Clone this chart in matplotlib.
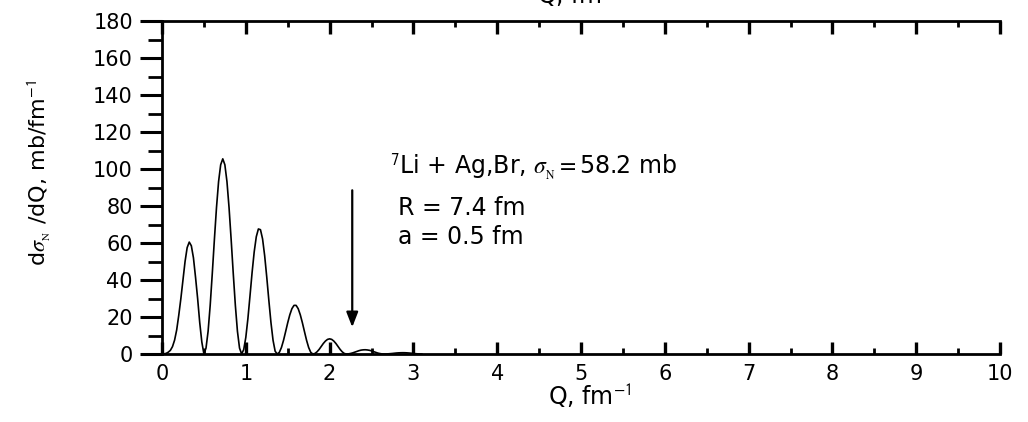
import matplotlib
matplotlib.use("Agg")
import matplotlib.pyplot as plt
from matplotlib import rcParams
from matplotlib.ticker import MultipleLocator
import numpy as np

rcParams.update({
    "font.family": ["DejaVu Sans"],
    "mathtext.fontset": "stix",
    "axes.linewidth": 2.0,
})

# momentum transfer grid, fm^-1
q = np.arange(0, 3.125, 0.025)
# differential cross section dsigma_N/dQ, mb/fm^-1
dsig = np.array([
    0.0, 0.1, 0.35, 1.0, 2.0, 4.0, 7.5, 13.0, 21.0, 30.0,
    40.0, 50.0, 57.5, 60.5, 58.5, 52.0, 41.5, 30.0, 17.0, 6.5,
    0.0, 3.2, 12.3, 26.4, 43.6, 61.9, 79.1, 93.2, 102.3, 105.5,
    102.3, 93.2, 79.1, 61.9, 43.6, 26.4, 12.3, 3.2, 0.0, 2.4,
    9.0, 19.2, 31.5, 44.1, 55.2, 63.4, 67.6, 67.2, 62.2, 53.1,
    41.5, 28.9, 17.0, 7.4, 1.5, 0.0, 0.9, 3.5, 7.4, 12.1,
    16.9, 21.2, 24.5, 26.3, 26.3, 24.5, 21.2, 16.9, 12.1, 7.4,
    3.5, 0.9, 0.0, 0.3, 1.2, 2.5, 4.1, 5.7, 7.0, 7.9,
    8.2, 7.9, 7.0, 5.7, 4.1, 2.5, 1.2, 0.3, 0.0, 0.07,
    0.3, 0.6, 1.0, 1.4, 1.8, 2.1, 2.25, 2.3, 2.2, 2.0,
    1.7, 1.3, 0.9, 0.5, 0.25, 0.06, 0.0, 0.02, 0.1, 0.2,
    0.3, 0.43, 0.55, 0.63, 0.68, 0.7, 0.68, 0.62, 0.53, 0.42,
    0.3, 0.19, 0.1, 0.03, 0.0,
])

arrow_q = 2.27
arrow_top = 90
arrow_tip = 13

fig = plt.figure(figsize=(10.28, 4.22), dpi=100)
ax = fig.add_axes([0.1576, 0.1611, 0.8152, 0.7891])

ax.plot(q, dsig, color="black", lw=1.2, clip_on=False)

ax.set_xlim(0, 10)
ax.set_ylim(0, 180)
ax.xaxis.set_major_locator(MultipleLocator(1))
ax.xaxis.set_minor_locator(MultipleLocator(0.5))
ax.yaxis.set_major_locator(MultipleLocator(20))
ax.yaxis.set_minor_locator(MultipleLocator(10))

ax.spines["right"].set_visible(False)
ax.tick_params(axis="x", which="both", direction="in", top=True, bottom=True,
               labelsize=15, pad=7)
ax.tick_params(axis="x", which="major", length=9, width=2.4)
ax.tick_params(axis="x", which="minor", length=4, width=2.0)
ax.tick_params(axis="y", which="both", direction="out", right=False,
               labelsize=15, pad=5)
ax.tick_params(axis="y", which="major", length=16, width=2.2)
ax.tick_params(axis="y", which="minor", length=10, width=2.0)

ax.set_xlabel(r"Q, fm$^{\mathsf{-1}}$", fontsize=17)
ax.xaxis.set_label_coords(0.51, -0.085)
ax.set_ylabel(r"d$\sigma_{_{\rm N}}$ /dQ, mb/fm$^{\mathsf{-1}}$", fontsize=16)
ax.yaxis.set_label_coords(-0.13, 0.545)

# upper axis caption runs off the top edge
fig.text(0.522, 0.9905, r"Q, fm$^{\mathsf{-1}}$", fontsize=17, ha="left",
         va="baseline")

ax.annotate("", xy=(arrow_q, arrow_tip), xytext=(arrow_q, arrow_top),
            arrowprops=dict(arrowstyle="-|>,head_length=0.9,head_width=0.35",
                            color="black", lw=1.6))

ax.text(2.72, 101, r"$^{\mathsf{7}}$Li + Ag,Br, $\sigma_{_{\rm N}} = $58.2 mb",
        fontsize=17, va="center")
ax.text(2.82, 79, "R = 7.4 fm", fontsize=17, va="center")
ax.text(2.82, 63, "a = 0.5 fm", fontsize=17, va="center")

fig.savefig("out.png", dpi=100)
